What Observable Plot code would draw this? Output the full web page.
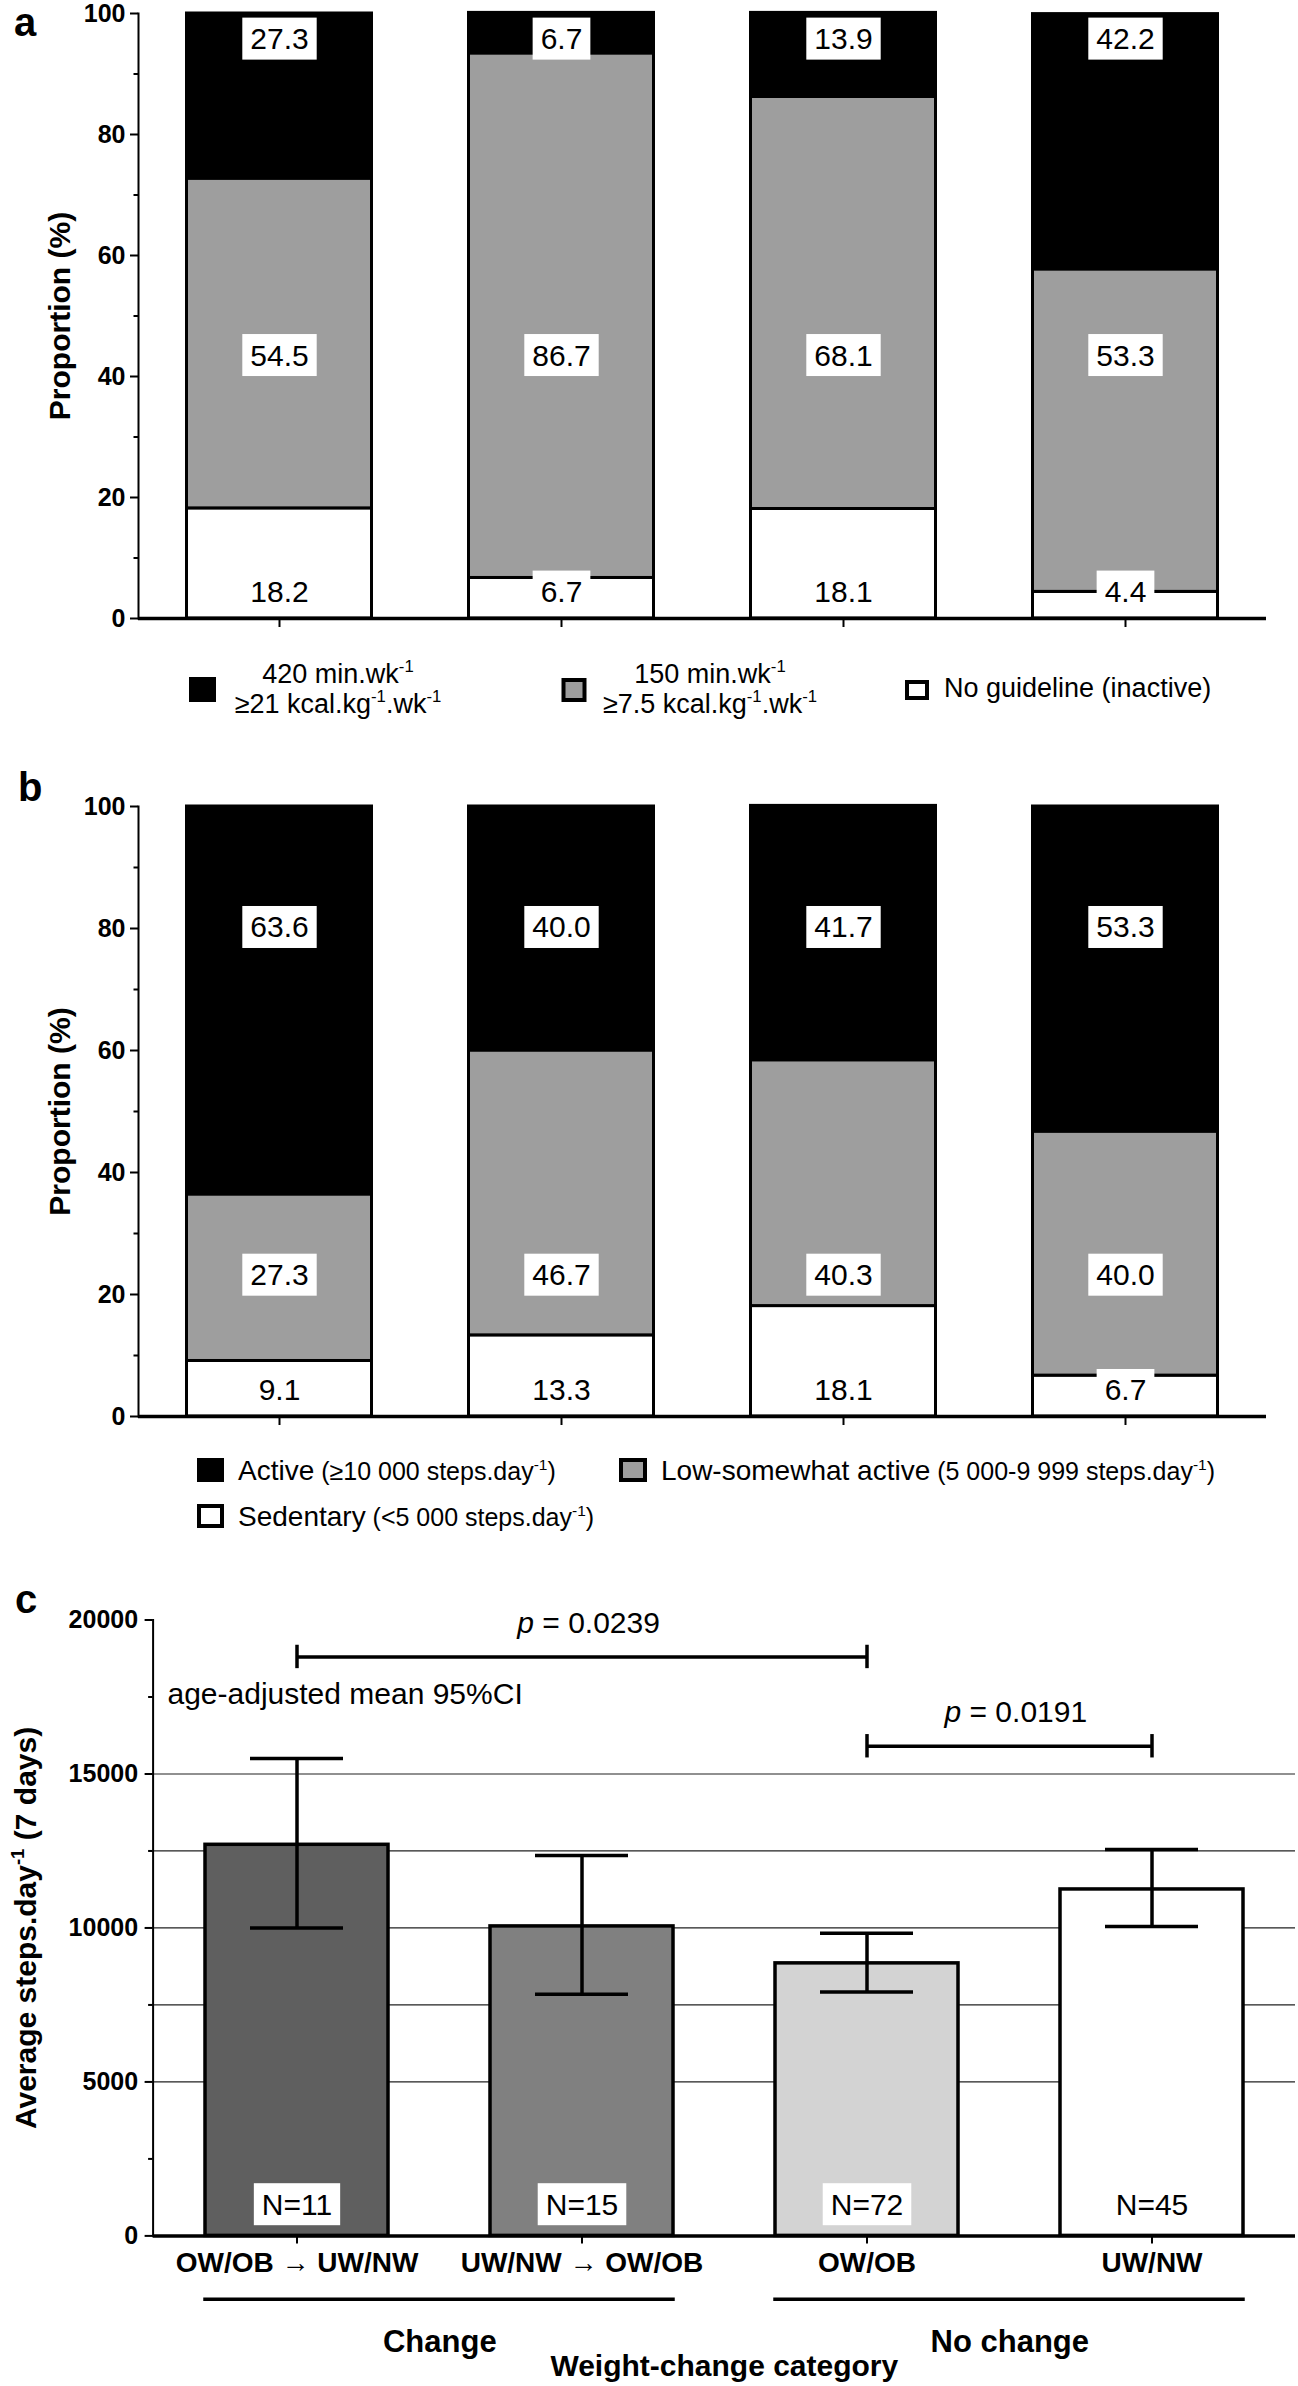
<!DOCTYPE html>
<html>
<head>
<meta charset="utf-8">
<script src="https://cdn.jsdelivr.net/npm/d3@7"></script>
<script src="https://cdn.jsdelivr.net/npm/@observablehq/plot@0.6"></script>
<style>
html,body{margin:0;padding:0;background:#fff;}
#root{position:relative;width:1298px;height:2386px;overflow:hidden;background:#fff;}
#root > svg{position:absolute;left:0;}
</style>
</head>
<body>
<div id="root"></div>
<script>
// ---------- data ----------
const groups = ["OW/OB → UW/NW", "UW/NW → OW/OB", "OW/OB", "UW/NW"];
const groupTypes = ["Change", "Change", "No change", "No change"];

// panel a : physical-activity guideline (%)
const guidelineLevels = ["none", "moderate", "high"];
const guidelineNone = [18.2, 6.7, 18.1, 4.4];
const guidelineModerate = [54.5, 86.7, 68.1, 53.3];
const guidelineHigh = [27.3, 6.7, 13.9, 42.2];

// panel b : step categories (%)
const stepLevels = ["sedentary", "low", "active"];
const stepsSedentary = [9.1, 13.3, 18.1, 6.7];
const stepsLow = [27.3, 46.7, 40.3, 40.0];
const stepsActive = [63.6, 40.0, 41.7, 53.3];

// panel c : age-adjusted mean steps/day with 95% CI
const meanSteps = [12700, 10050, 8850, 11250];
const ciLow = [10000, 7850, 7920, 10050];
const ciHigh = [15500, 12350, 9830, 12550];
const nCounts = [11, 15, 72, 45];
const comparisonFrom = [0, 2];
const comparisonTo = [2, 3];
const comparisonP = ["0.0239", "0.0191"];
const comparisonLevel = [18800, 15900];

// ticks
const proportionTicks = [0, 20, 40, 60, 80, 100];
const proportionMinorTicks = [10, 30, 50, 70, 90];
const stepsTicks = [0, 5000, 10000, 15000, 20000];
const stepsMinorTicks = [2500, 7500, 12500, 17500];
const stepsGrid = [5000, 7500, 10000, 12500, 15000];

// legends
const legendALabels = [
  ["420 min.wk^{-1}", "≥21 kcal.kg^{-1}.wk^{-1}"],
  ["150 min.wk^{-1}", "≥7.5 kcal.kg^{-1}.wk^{-1}"],
  ["No guideline (inactive)"]
];
const legendBLabels = [
  ["Active", " (≥10 000 steps.day^{-1})"],
  ["Low-somewhat active", " (5 000-9 999 steps.day^{-1})"],
  ["Sedentary", " (<5 000 steps.day^{-1})"]
];

// ---------- style ----------
const FONT = "Arial, 'Liberation Sans', Helvetica, sans-serif";
const W = 1298;
const GREY = "#9e9e9e";
const SVGNS = "http://www.w3.org/2000/svg";
const root = document.getElementById("root");

function appendRich(el, str, size, state = {shift: 0}) {
  const re = /\^\{([^}]*)\}|\*([^*]+)\*/g;
  let last = 0, m;
  const push = (txt, kind) => {
    if (!txt) return;
    const ts = document.createElementNS(SVGNS, "tspan");
    ts.textContent = txt;
    ts.setAttribute("font-size", kind === "sup" ? size * 0.62 : size);
    const target = kind === "sup" ? -size * 0.42 : 0;
    const dy = target - state.shift;
    if (dy) ts.setAttribute("dy", dy);
    state.shift = target;
    if (kind === "it") ts.setAttribute("font-style", "italic");
    el.appendChild(ts);
  };
  while ((m = re.exec(str))) {
    push(str.slice(last, m.index), "plain");
    if (m[1] != null) push(m[1], "sup"); else push(m[2], "it");
    last = re.lastIndex;
  }
  push(str.slice(last), "plain");
  return state;
}

function stackedPanel({levels, series, colors, labelY, top, height, marginTop, marginBottom}) {
  const rows = groups.flatMap((g, i) => levels.map((lv, k) => ({group: g, level: lv, value: series[k][i]})));
  const svg = Plot.plot({
    width: W, height, marginTop, marginBottom, marginLeft: 138, marginRight: 32,
    style: {fontFamily: FONT, color: "#000", background: "transparent", overflow: "visible"},
    x: {domain: groups, padding: 0},
    y: {domain: [0, 100]},
    color: {domain: levels, range: colors},
    marks: [
      Plot.barY(rows, {x: "group", y: "value", fill: "level", stroke: "#000", strokeWidth: 3, insetLeft: 48.5, insetRight: 48.5}),
      Plot.text(rows, {x: "group", y: d => labelY[levels.indexOf(d.level)], text: d => d.value.toFixed(1), fontSize: 30, fill: "#000"}),
      Plot.frame({anchor: "left", strokeWidth: 2}),
      Plot.ruleY([0], {strokeWidth: 3.5}),
      Plot.axisY({ticks: proportionTicks, tickSize: 8, tickPadding: 5, tickFormat: d => String(d), fontSize: 25, fontWeight: "bold", strokeWidth: 2, label: null}),
      Plot.axisY({ticks: proportionMinorTicks, tickSize: 4.5, tickFormat: () => "", strokeWidth: 2, label: null}),
      Plot.axisX({tickSize: 9, tickFormat: () => "", strokeWidth: 2, label: null}),
      Plot.text(["Proportion (%)"], {frameAnchor: "left", textAnchor: "middle", rotate: -90, dx: -78, fontSize: 30, fontWeight: "bold"})
    ]
  });
  svg.style.top = top + "px";
  root.appendChild(svg);
  return svg;
}

const svgA = stackedPanel({
  levels: guidelineLevels, series: [guidelineNone, guidelineModerate, guidelineHigh],
  colors: ["#fff", GREY, "#000"], labelY: [4.3, 43.4, 95.7],
  top: 0, height: 650, marginTop: 13, marginBottom: 32
});
const svgB = stackedPanel({
  levels: stepLevels, series: [stepsSedentary, stepsLow, stepsActive],
  colors: ["#fff", GREY, "#000"], labelY: [4.2, 23.1, 80.1],
  top: 790, height: 650, marginTop: 16, marginBottom: 24
});

// ---------- panel c ----------
const mlC = 152.6, mrC = 3;
const stepC = (W - mlC - mrC) / groups.length;
const barInsetC = 51;
const stats = groups.map((g, i) => ({group: g, mean: meanSteps[i], lo: ciLow[i], hi: ciHigh[i], n: nCounts[i], type: groupTypes[i]}));
const comparisons = comparisonFrom.map((f, i) => ({from: f, to: comparisonTo[i], p: comparisonP[i], level: comparisonLevel[i]}));
const bracketEnds = comparisons.flatMap(c => [c.from, c.to].map(k => ({group: groups[k], level: c.level})));
const spanTypes = [...new Set(groupTypes)];
const groupSpans = spanTypes.map(t => ({type: t, first: groups[groupTypes.indexOf(t)], last: groups[groupTypes.lastIndexOf(t)]}));
const underlineY = -2055;

const svgC = Plot.plot({
  width: W, height: 826, marginTop: 59.5, marginBottom: 150.6, marginLeft: mlC, marginRight: mrC,
  style: {fontFamily: FONT, color: "#000", background: "transparent", overflow: "visible"},
  x: {domain: groups, padding: 0},
  y: {domain: [0, 20000]},
  color: {domain: groups, range: ["#5f5f5f", "#808080", "#d3d3d3", "#ffffff"]},
  marks: [
    Plot.gridY({ticks: stepsGrid, stroke: "#222", strokeOpacity: 1, strokeWidth: 1.2}),
    Plot.barY(stats, {x: "group", y: "mean", fill: "group", stroke: "#000", strokeWidth: 3.5, insetLeft: barInsetC, insetRight: barInsetC}),
    Plot.ruleX(stats, {x: "group", y1: "lo", y2: "hi", strokeWidth: 3.5}),
    Plot.tickY(stats, {x: "group", y: "lo", inset: 96, strokeWidth: 3.5}),
    Plot.tickY(stats, {x: "group", y: "hi", inset: 96, strokeWidth: 3.5}),
    Plot.text(stats, {x: "group", y: 1000, text: d => `N=${d.n}`, fontSize: 30}),
    Plot.ruleY(comparisons, {y: "level", x1: d => groups[d.from], x2: d => groups[d.to], insetLeft: stepC / 2, insetRight: stepC / 2, strokeWidth: 3.5}),
    Plot.ruleX(bracketEnds, {x: "group", y1: d => d.level - 380, y2: d => d.level + 380, strokeWidth: 3.5}),
    ...comparisons.map(c => Plot.text([c], {x: d => groups[d.from], y: "level", dx: (c.to - c.from) * stepC / 2 + 6, dy: -24, lineAnchor: "bottom", text: d => `*p* = ${d.p}`, fontSize: 30})),
    Plot.text(["age-adjusted mean 95%CI"], {frameAnchor: "top-left", textAnchor: "start", dx: 14.4, dy: 83.5, lineAnchor: "bottom", fontSize: 30}),
    Plot.ruleY(groupSpans, {y: () => underlineY, x1: "first", x2: "last", insetLeft: barInsetC - 1.75, insetRight: barInsetC - 1.75, strokeWidth: 3.5}),
    Plot.text(groupSpans, {x: "first", y: () => underlineY, dx: stepC / 2, dy: 53, lineAnchor: "bottom", text: "type", fontSize: 31, fontWeight: "bold"}),
    Plot.frame({anchor: "left", strokeWidth: 2}),
    Plot.ruleY([0], {strokeWidth: 3.5}),
    Plot.axisY({ticks: stepsTicks, tickSize: 8, tickPadding: 7, tickFormat: d => String(d), fontSize: 25, fontWeight: "bold", strokeWidth: 2, label: null}),
    Plot.axisY({ticks: stepsMinorTicks, tickSize: 4.5, tickFormat: () => "", strokeWidth: 2, label: null}),
    Plot.axisX({tickSize: 8, tickPadding: 8, fontSize: 28, fontWeight: "bold", strokeWidth: 2, label: null}),
    Plot.text(["Weight-change category"], {frameAnchor: "bottom", dy: 140, lineAnchor: "bottom", fontSize: 30, fontWeight: "bold"}),
    Plot.text(["Average steps.day^{-1} (7 days)"], {frameAnchor: "left", textAnchor: "middle", rotate: -90, dx: 26 - mlC, fontSize: 30, fontWeight: "bold"})
  ]
});
svgC.style.top = "1560px";
root.appendChild(svgC);

// ---------- post-processing: label boxes and rich text ----------
[svgA, svgB, svgC].forEach(svg => {
  Array.from(svg.querySelectorAll("text")).forEach(t => {
    const s = t.textContent;
    if (/^(\d+\.\d|N=\d+)$/.test(s)) {
      const b = t.getBBox();
      const r = document.createElementNS(SVGNS, "rect");
      r.setAttribute("x", b.x - 8);
      r.setAttribute("y", b.y - 4.5);
      r.setAttribute("width", b.width + 16);
      r.setAttribute("height", b.height + 9);
      r.setAttribute("fill", "#fff");
      r.setAttribute("stroke", "none");
      const tr = t.getAttribute("transform");
      if (tr) r.setAttribute("transform", tr);
      t.parentNode.insertBefore(r, t);
    } else if (s.includes("^{") || s.includes("*")) {
      const size = parseFloat(getComputedStyle(t).fontSize) || 30;
      while (t.firstChild) t.removeChild(t.firstChild);
      appendRich(t, s, size);
    }
  });
});

// ---------- overlay: panel letters and legends ----------
const ov = d3.create("svg").attr("width", W).attr("height", 2386)
  .style("position", "absolute").style("left", "0px").style("top", "0px")
  .style("font-family", FONT).style("pointer-events", "none");

[["a", 14, 36], ["b", 18, 801], ["c", 15, 1613]].forEach(([l, x, y]) =>
  ov.append("text").attr("x", x).attr("y", y).attr("font-size", 40).attr("font-weight", "bold").text(l));

function swatch(x, y, w, h, fill) {
  ov.append("rect").attr("x", x + 2).attr("y", y + 2).attr("width", w - 4).attr("height", h - 4)
    .attr("fill", fill).attr("stroke", "#000").attr("stroke-width", 4);
}

// legend a
const legAFills = ["#000", GREY, "#fff"];
const legASw = [[189, 677, 27, 25], [561.5, 678, 25, 24], [905, 680, 24, 20]];
const legAText = [{x: 338, anchor: "middle"}, {x: 710, anchor: "middle"}, {x: 944, anchor: "start"}];
legendALabels.forEach((lines, i) => {
  swatch(...legASw[i], legAFills[i]);
  const baselines = lines.length === 2 ? [683, 713] : [697];
  lines.forEach((ln, k) => {
    const t = ov.append("text").attr("x", legAText[i].x).attr("y", baselines[k])
      .attr("text-anchor", legAText[i].anchor).attr("font-size", 27).node();
    appendRich(t, ln, 27);
  });
});

// legend b
const legBFills = ["#000", GREY, "#fff"];
const legBSw = [[197, 1458, 27, 24], [619, 1458, 28, 24], [197, 1504, 27, 24]];
const legBText = [[238, 1480], [661, 1480], [238, 1526]];
legendBLabels.forEach((parts, i) => {
  swatch(...legBSw[i], legBFills[i]);
  const t = ov.append("text").attr("x", legBText[i][0]).attr("y", legBText[i][1]).attr("font-size", 28).node();
  const st = appendRich(t, parts[0], 28);
  appendRich(t, parts[1], 25, st);
});

root.appendChild(ov.node());
</script>
</body>
</html>
